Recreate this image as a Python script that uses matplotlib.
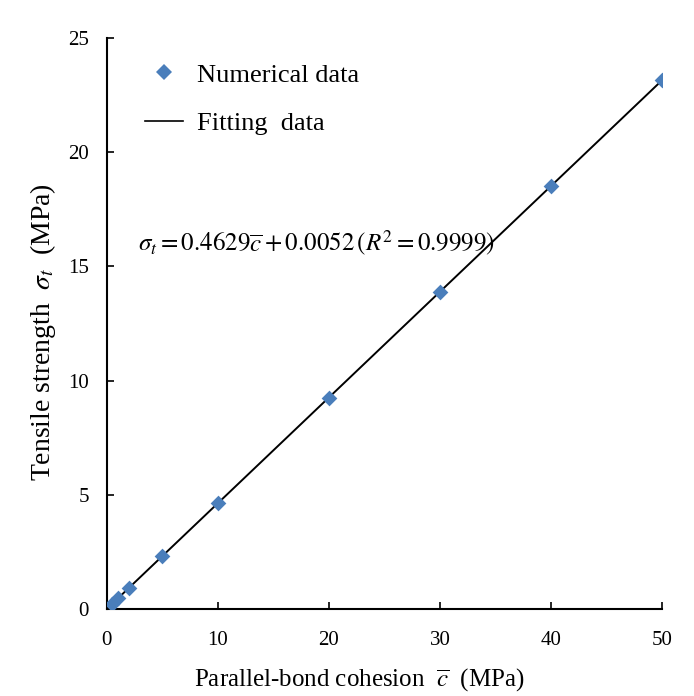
import numpy as np
import matplotlib
matplotlib.use("Agg")
import matplotlib.pyplot as plt
from matplotlib.lines import Line2D

plt.rcParams["font.family"] = ["Liberation Serif", "DejaVu Serif"]
plt.rcParams["mathtext.fontset"] = "stix"

# numerical data
cohesion = [0.5, 1, 2, 5, 10, 20, 30, 40, 50]
tensile = [0.24, 0.47, 0.93, 2.32, 4.63, 9.26, 13.89, 18.52, 23.15]
# linear fit shown in the equation
slope, intercept = 0.4629, 0.0052

xfit = np.array([min(cohesion), max(cohesion)])
yfit = slope * xfit + intercept

fig = plt.figure(figsize=(6.94, 6.96), dpi=100)
ax = fig.add_axes([0.154, 0.125, 0.8, 0.8204])

ax.plot(xfit, yfit, color="black", lw=1.4, zorder=2)
ax.scatter(cohesion, tensile, marker="D", s=64, color="#4a7ebb", zorder=3, linewidths=0)

ax.set_xlim(0, 50)
ax.set_ylim(0, 25)
ax.set_xticks([0, 10, 20, 30, 40, 50])
ax.set_yticks([0, 5, 10, 15, 20, 25])
ax.tick_params(direction="in", length=5, width=1.2, labelsize=15)
ax.tick_params(axis="x", pad=16)
ax.tick_params(axis="y", pad=13)
for sp in ("top", "right"):
    ax.spines[sp].set_visible(False)
for sp in ("left", "bottom"):
    ax.spines[sp].set_linewidth(1.5)

ax.set_xlabel(r"Parallel-bond cohesion  $\overline{c}$  (MPa)", fontsize=18)
ax.xaxis.set_label_coords(0.455, -0.1)
ax.set_ylabel(r"Tensile strength  $\sigma_t$  (MPa)", fontsize=20)
ax.yaxis.set_label_coords(-0.088, 0.485)

ax.text(2.8, 16.0, r"$\sigma_t = 0.4629\overline{c} + 0.0052\,\left(R^2 = 0.9999\right)$",
        fontsize=18, va="center", ha="left")

leg = [Line2D([0], [0], marker="D", color="w", markerfacecolor="#4a7ebb",
              markeredgewidth=0, markersize=8.5, label="Numerical data"),
       Line2D([0], [0], color="black", lw=1.2, label="Fitting  data")]
ax.legend(handles=leg, loc="upper left", bbox_to_anchor=(0.068, 0.956), frameon=False,
          fontsize=19, handlelength=1.45, handletextpad=0.55, labelspacing=0.95,
          borderpad=0, borderaxespad=0)

plt.savefig("out.png", dpi=100)
